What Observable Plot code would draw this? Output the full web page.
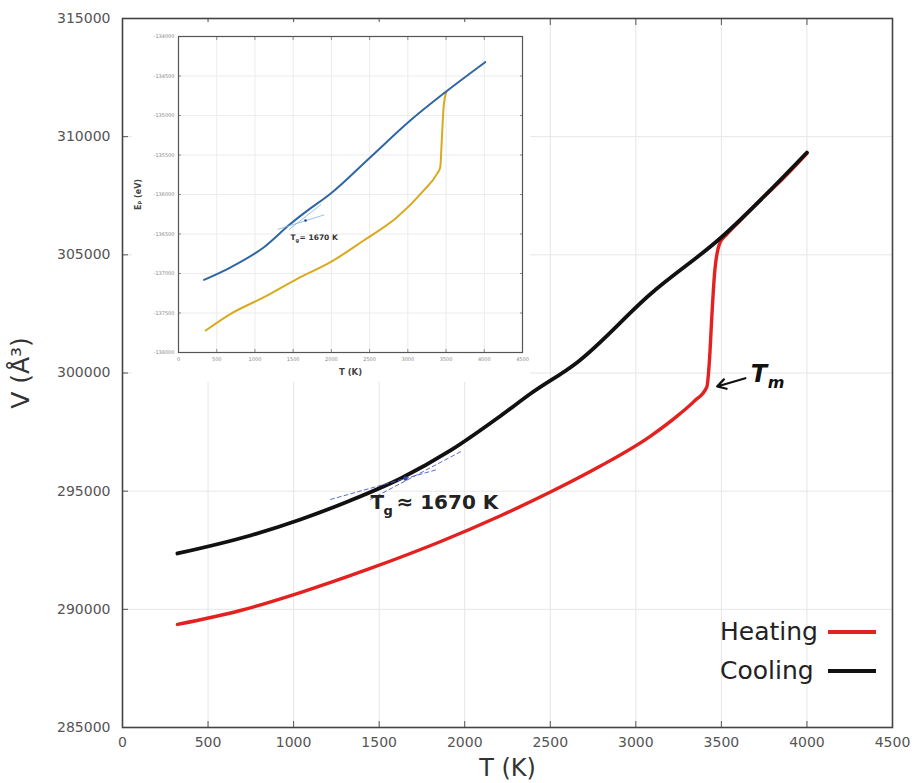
<!DOCTYPE html>
<html>
<head>
<meta charset="utf-8">
<script src="https://cdn.jsdelivr.net/npm/d3@7"></script>
<script src="https://cdn.jsdelivr.net/npm/@observablehq/plot@0.6"></script>
<style>
  body { margin: 0; background: #fff; }
  #wrap { position: relative; width: 912px; height: 783px; overflow: hidden; }
  #inset { position: absolute; left: 132px; top: 22px; width: 398px; height: 360px; background: #fff; }
  #legend { position: absolute; left: 720px; top: 612px; font-family: "DejaVu Sans", sans-serif; font-size: 25px; color: #222; }
  #legend .row { display: flex; align-items: center; height: 39px; }
  #legend .name { display: inline-block; width: 108px; }
  #legend .sw { display: inline-block; width: 48px; height: 4px; }
</style>
</head>
<body>
<div id="wrap">
  <div id="main"></div>
  <div id="inset"></div>
  <div id="legend"></div>
</div>
<script>
// ---- Volume vs temperature (main panel) ----
const xTicks = [0, 500, 1000, 1500, 2000, 2500, 3000, 3500, 4000, 4500];
const yTicks = [285000, 290000, 295000, 300000, 305000, 310000, 315000];

const heatT = [321, 689, 1039, 1448, 1856, 2206, 2498, 2790, 3082, 3257, 3340, 3415, 3430, 3445, 3460, 3490, 3530, 3600, 3750, 3850, 4000];
const heatV = [289360, 289950, 290710, 291730, 292860, 293950, 294950, 296050, 297310, 298270, 298800, 299410, 300500, 302500, 304200, 305480, 305850, 306380, 307470, 308150, 309290];

const coolT = [321, 748, 1040, 1332, 1625, 1917, 2209, 2384, 2659, 3086, 3495, 4000];
const coolV = [292364, 293126, 293803, 294607, 295538, 296722, 298182, 299120, 300460, 303343, 305713, 309330];

// glass-transition construction: two tangents meeting at Tg
const tangentName = ["glass", "glass", "liquid", "liquid"];
const tangentT = [1216, 1841, 1449, 1975];
const tangentV = [294650, 295919, 294650, 296665];
const tgPointT = [1654];
const tgPointV = [295538];
const tgLabelT = [1449];
const tgLabelV = [294522];

// melting-point pointer
const tmArrowT = [3640, 3475];
const tmArrowV = [299780, 299430];
const tmLabelT = [3672];
const tmLabelV = [299940];

const seriesNames = ["Heating", "Cooling"];
const seriesColors = ["#e3221f", "#111111"];

// ---- Potential energy vs temperature (inset) ----
const insetXTicks = [0, 500, 1000, 1500, 2000, 2500, 3000, 3500, 4000, 4500];
const insetYTicks = [-138000, -137500, -137000, -136500, -136000, -135500, -135000, -134500, -134000];

const insetCoolT = [334, 683, 1118, 1466, 1664, 1988, 2510, 3032, 3490, 4012];
const insetCoolE = [-137080, -136921, -136667, -136371, -136220, -135991, -135528, -135063, -134705, -134325];

const insetHeatT = [356, 683, 1118, 1553, 1988, 2423, 2858, 3206, 3381, 3424, 3446, 3468, 3503];
const insetHeatE = [-137722, -137511, -137300, -137067, -136857, -136582, -136288, -135950, -135739, -135654, -135275, -134895, -134705];

const insetTangentName = ["glass", "glass", "liquid", "liquid"];
const insetTangentT = [1300, 1900, 1450, 1860];
const insetTangentE = [-136440, -136260, -136440, -136130];
const insetTgT = [1662];
const insetTgE = [-136330];
const insetLabelT = [1466];
const insetLabelE = [-136545];

// tables for the marks
const heating = heatT.map((T, i) => ({T, V: heatV[i]}));
const cooling = coolT.map((T, i) => ({T, V: coolV[i]}));
const tangents = tangentT.map((T, i) => ({T, V: tangentV[i], line: tangentName[i]}));
const tgPoint = tgPointT.map((T, i) => ({T, V: tgPointV[i]}));
const tgLabel = tgLabelT.map((T, i) => ({T, V: tgLabelV[i]}));
const tmArrow = [{T1: tmArrowT[0], V1: tmArrowV[0], T2: tmArrowT[1], V2: tmArrowV[1]}];
const tmLabel = tmLabelT.map((T, i) => ({T, V: tmLabelV[i]}));

const fmt = d3.format("d");
const plain = d => String(d);
const sans = "'DejaVu Sans', sans-serif";

const main = Plot.plot({
  width: 912,
  height: 783,
  marginLeft: 122,
  marginRight: 20,
  marginTop: 18,
  marginBottom: 56,
  style: {fontFamily: sans, background: "#fff", overflow: "visible"},
  x: {domain: [0, 4500]},
  y: {domain: [285000, 315000]},
  marks: [
    Plot.gridX(xTicks, {stroke: "#e6e6e6", strokeOpacity: 1}),
    Plot.gridY(yTicks, {stroke: "#e6e6e6", strokeOpacity: 1}),
    Plot.line(heating, {x: "T", y: "V", stroke: seriesColors[0], strokeWidth: 3.4, curve: "monotone-x"}),
    Plot.line(cooling, {x: "T", y: "V", stroke: seriesColors[1], strokeWidth: 3.8, curve: "monotone-x"}),
    Plot.line(tangents, {x: "T", y: "V", z: "line", stroke: "#4b58c8", strokeWidth: 0.9, strokeDasharray: "4,3"}),
    Plot.dot(tgPoint, {x: "T", y: "V", r: 2.2, fill: "#3545b5"}),
    Plot.text(tgLabel, {x: "T", y: "V", text: () => "T", textAnchor: "start", fontSize: 20, fontWeight: "bold", fill: "#222"}),
    Plot.text(tgLabel, {x: "T", y: "V", text: () => "g", textAnchor: "start", dx: 13, dy: 8, fontSize: 13, fontWeight: "bold", fill: "#222"}),
    Plot.text(tgLabel, {x: "T", y: "V", text: () => "≈ 1670 K", textAnchor: "start", dx: 26, fontSize: 20, fontWeight: "bold", fill: "#222"}),
    Plot.arrow(tmArrow, {x1: "T1", y1: "V1", x2: "T2", y2: "V2", stroke: "#111", strokeWidth: 2.2, headLength: 8}),
    Plot.text(tmLabel, {x: "T", y: "V", text: () => "T", textAnchor: "start", fontSize: 24, fontWeight: "bold", fontStyle: "italic", fill: "#111"}),
    Plot.text(tmLabel, {x: "T", y: "V", text: () => "m", textAnchor: "start", dx: 17, dy: 8, fontSize: 16, fontStyle: "italic", fontWeight: "bold", fill: "#111"}),
    Plot.axisX(xTicks, {tickSize: -6, tickPadding: 16, tickFormat: fmt, fontSize: 14, color: "#555", label: null}),
    Plot.axisX(xTicks, {anchor: "top", tickSize: -6, tickFormat: () => "", label: null, color: "#555"}),
    Plot.axisY(yTicks, {tickSize: -6, tickPadding: 18, tickFormat: fmt, fontSize: 14, color: "#555", label: null}),
    Plot.frame({stroke: "#444", strokeWidth: 1.6}),
    Plot.text(["T (K)"], {frameAnchor: "bottom", dy: 41, lineAnchor: "middle", fontSize: 24, fill: "#333"}),
    Plot.text(["V (Å³)"], {frameAnchor: "left", dx: -102, rotate: -90, textAnchor: "middle", lineAnchor: "middle", fontSize: 25, fill: "#333"})
  ]
});
document.getElementById("main").append(main);

// inset tables
const insetCool = insetCoolT.map((T, i) => ({T, E: insetCoolE[i]}));
const insetHeat = insetHeatT.map((T, i) => ({T, E: insetHeatE[i]}));
const insetTangents = insetTangentT.map((T, i) => ({T, E: insetTangentE[i], line: insetTangentName[i]}));
const insetTg = insetTgT.map((T, i) => ({T, E: insetTgE[i]}));
const insetLabel = insetLabelT.map((T, i) => ({T, E: insetLabelE[i]}));

const inset = Plot.plot({
  width: 398,
  height: 360,
  marginLeft: 46,
  marginRight: 8,
  marginTop: 14,
  marginBottom: 30,
  style: {fontFamily: sans, background: "#fff", overflow: "visible"},
  x: {domain: [0, 4500]},
  y: {domain: [-138000, -134000]},
  marks: [
    Plot.gridX(insetXTicks, {stroke: "#ececec", strokeOpacity: 1}),
    Plot.gridY(insetYTicks, {stroke: "#ececec", strokeOpacity: 1}),
    Plot.line(insetHeat, {x: "T", y: "E", stroke: "#d9aa1e", strokeWidth: 2, curve: "monotone-x"}),
    Plot.line(insetCool, {x: "T", y: "E", stroke: "#2f66a3", strokeWidth: 2, curve: "monotone-x"}),
    Plot.line(insetTangents, {x: "T", y: "E", z: "line", stroke: "#7fb2e6", strokeWidth: 0.8}),
    Plot.dot(insetTg, {x: "T", y: "E", r: 1.3, fill: "#2b3f8f"}),
    Plot.text(insetLabel, {x: "T", y: "E", text: () => "T", textAnchor: "start", fontSize: 7.5, fontWeight: "bold", fill: "#333"}),
    Plot.text(insetLabel, {x: "T", y: "E", text: () => "g", textAnchor: "start", dx: 5, dy: 3, fontSize: 5, fontWeight: "bold", fill: "#333"}),
    Plot.text(insetLabel, {x: "T", y: "E", text: () => "= 1670 K", textAnchor: "start", dx: 9, fontSize: 7.5, fontWeight: "bold", fill: "#333"}),
    Plot.axisX(insetXTicks, {tickSize: -3, tickPadding: 8, tickFormat: plain, fontSize: 5, color: "#888", label: null}),
    Plot.axisX(insetXTicks, {anchor: "top", tickSize: -3, tickFormat: () => "", label: null, color: "#888"}),
    Plot.axisY(insetYTicks, {tickSize: -3, tickPadding: 7, tickFormat: plain, fontSize: 5, color: "#888", label: null}),
    Plot.axisY(insetYTicks, {anchor: "right", tickSize: -3, tickFormat: () => "", label: null, color: "#888"}),
    Plot.frame({stroke: "#555", strokeWidth: 1.2}),
    Plot.text(["T (K)"], {frameAnchor: "bottom", dy: 20, lineAnchor: "middle", fontSize: 8.5, fontWeight: "bold", fill: "#444"}),
    Plot.text(["Eₚ (eV)"], {frameAnchor: "left", dx: -40, rotate: -90, textAnchor: "middle", lineAnchor: "middle", fontSize: 8, fontWeight: "bold", fill: "#444"})
  ]
});
document.getElementById("inset").append(inset);

// series key
const legend = document.getElementById("legend");
seriesNames.forEach((name, i) => {
  const row = document.createElement("div");
  row.className = "row";
  const label = document.createElement("span");
  label.className = "name";
  label.textContent = name;
  const sw = document.createElement("span");
  sw.className = "sw";
  sw.style.background = seriesColors[i];
  row.append(label, sw);
  legend.append(row);
});
</script>
</body>
</html>
